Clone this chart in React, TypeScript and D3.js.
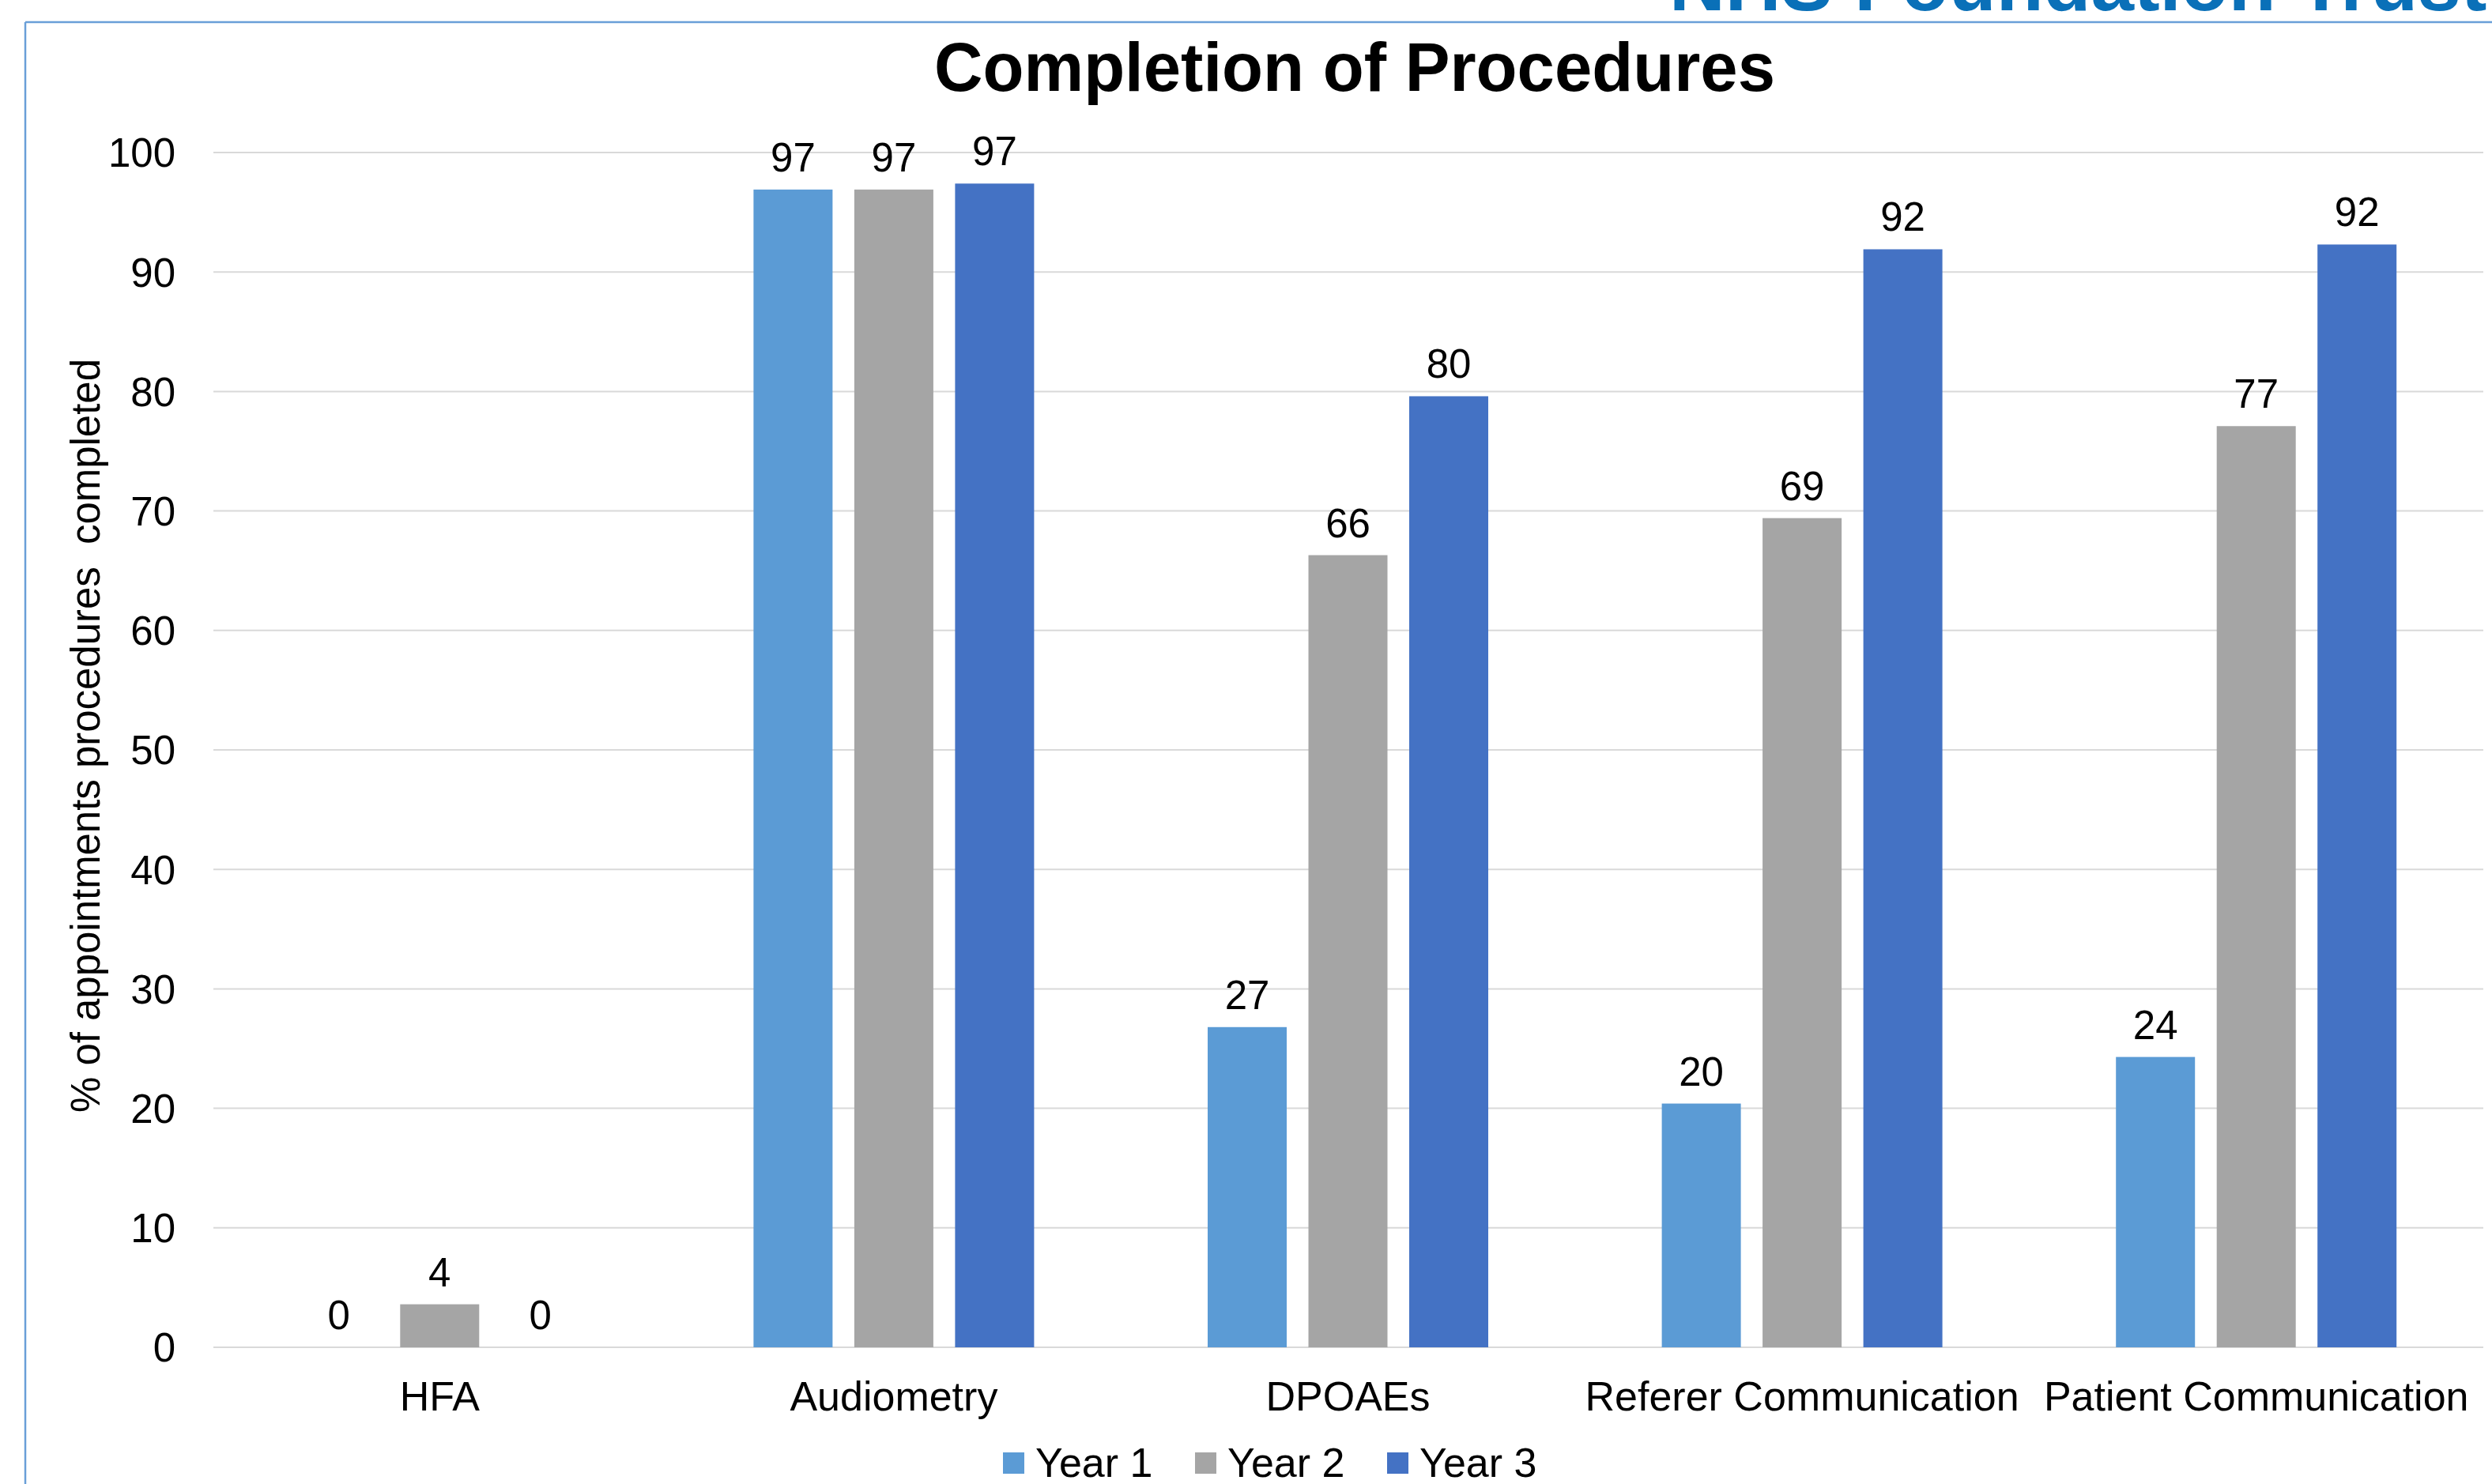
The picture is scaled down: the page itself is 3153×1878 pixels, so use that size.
import React from "react";
import * as d3 from "d3";

const categories = ["HFA", "Audiometry", "DPOAEs", "Referer Communication", "Patient Communication"];
const seriesNames = ["Year 1", "Year 2", "Year 3"];
const year1 = [0, 96.9, 26.8, 20.4, 24.3];
const year2 = [3.6, 96.9, 66.3, 69.4, 77.1];
const year3 = [0, 97.4, 79.6, 91.9, 92.3];
const seriesColors = ["#5b9bd5", "#a5a5a5", "#4472c4"];
const yTicks = [0, 10, 20, 30, 40, 50, 60, 70, 80, 90, 100];

const W = 3153;
const H = 1878;
const FONT = "'Liberation Sans', Arial, Helvetica, sans-serif";

export default function App() {
  const series = [year1, year2, year3];
  const plotLeft = 269;
  const plotRight = 3142;
  const y = d3.scaleLinear().domain([0, 100]).range([1705, 193]);
  const x0 = d3.scaleBand<string>().domain(categories).range([plotLeft, plotRight]).padding(0);
  const groupW = 355;
  const x1 = d3.scaleBand<string>().domain(seriesNames).range([0, groupW]).paddingInner(27.5 / 127.5).paddingOuter(0);
  const groupOffset = (x0.bandwidth() - groupW) / 2;
  const fmt = (v: number) => String(Math.round(v));

  const legendX = [1269, 1512, 1755];

  return (
    <svg
      width={W}
      height={H}
      viewBox={`0 0 ${W} ${H}`}
      style={{ position: "absolute", left: 0, top: 0, background: "#fff" }}
      fontFamily={FONT}
    >
      <rect x={0} y={0} width={W} height={H} fill="#ffffff" />
      {/* header text cut at the top */}
      <text x={2112} y={13} fontSize={98} fontWeight="bold" fill="#0a70b8">
        NHS Foundation Trust
      </text>
      {/* frame */}
      <line x1={32} y1={28} x2={W} y2={28} stroke="#6a9fd8" strokeWidth={2.5} />
      <line x1={32} y1={28} x2={32} y2={H} stroke="#6a9fd8" strokeWidth={2.5} />

      {/* title */}
      <text
        x={1714}
        y={115}
        textAnchor="middle"
        fontSize={88}
        fontWeight="bold"
        fill="#000"
        textLength={1064}
        lengthAdjust="spacingAndGlyphs"
      >
        Completion of Procedures
      </text>

      {/* gridlines */}
      {yTicks.map((t) => (
        <line key={"g" + t} x1={plotLeft + 1} x2={plotRight} y1={y(t)} y2={y(t)} stroke="#d9d9d9" strokeWidth={2} />
      ))}
      {/* y tick labels */}
      {yTicks.map((t) => (
        <text key={"t" + t} x={222} y={y(t)} dy="0.36em" textAnchor="end" fontSize={51} fill="#000">
          {t}
        </text>
      ))}

      {/* y axis title */}
      <text
        transform="translate(126,931) rotate(-90)"
        textAnchor="middle"
        fontSize={51}
        fill="#000"
        xmlSpace="preserve"
        textLength={954}
        lengthAdjust="spacingAndGlyphs"
      >
        {"% of appointments procedures  completed"}
      </text>

      {/* bars */}
      {categories.map((c, ci) => (
        <g key={c} transform={`translate(${(x0(c) ?? 0) + groupOffset},0)`}>
          {seriesNames.map((s, si) => {
            const v = series[si][ci];
            const bx = x1(s) ?? 0;
            return (
              <g key={s}>
                <rect x={bx} y={y(v)} width={x1.bandwidth()} height={y(0) - y(v)} fill={seriesColors[si]} />
                <text x={bx + x1.bandwidth() / 2} y={y(v) - 23} textAnchor="middle" fontSize={51} fill="#000">
                  {fmt(v)}
                </text>
              </g>
            );
          })}
        </g>
      ))}

      {/* category labels */}
      {categories.map((c) => (
        <text key={"c" + c} x={(x0(c) ?? 0) + x0.bandwidth() / 2} y={1785} textAnchor="middle" fontSize={52} fill="#000">
          {c}
        </text>
      ))}

      {/* legend */}
      {seriesNames.map((s, i) => (
        <g key={"l" + s}>
          <rect x={legendX[i]} y={1838} width={27} height={27} fill={seriesColors[i]} />
          <text x={legendX[i] + 41} y={1869} fontSize={52} fill="#000">
            {s}
          </text>
        </g>
      ))}
    </svg>
  );
}
